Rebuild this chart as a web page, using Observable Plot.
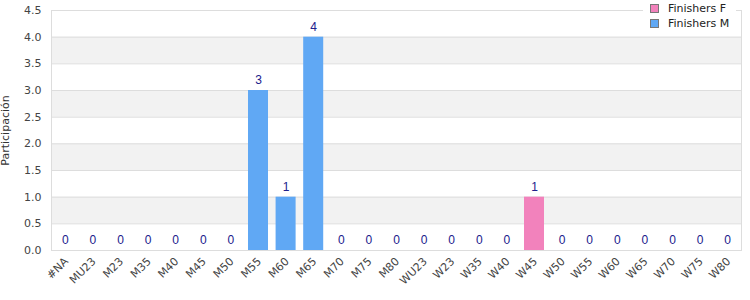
<!DOCTYPE html>
<html><head><meta charset="utf-8">
<script src="https://cdn.jsdelivr.net/npm/d3@7"></script>
<script src="https://cdn.jsdelivr.net/npm/@observablehq/plot@0.6"></script>
<style>
body{margin:0;background:#fff;}
#wrap{position:relative;width:750px;height:300px;overflow:hidden;}
#legend{position:absolute;left:643px;top:0px;width:93px;padding-top:1px;background:#fff;font-family:"DejaVu Sans",sans-serif;font-size:11px;color:#222;}
.item{display:flex;align-items:center;height:15px;}
.sw{width:7px;height:7px;border:1px solid #777;margin-left:7px;margin-right:9px;}
</style>
</head><body>
<div id="wrap"><div id="legend"></div></div>
<script>
const categories = ["#NA","MU23","M23","M35","M40","M45","M50","M55","M60","M65","M70","M75","M80","WU23","W23","W35","W40","W45","W50","W55","W60","W65","W70","W75","W80"];
const finishersF = [0,0,0,0,0,0,0,0,0,0,0,0,0,0,0,0,0,1,0,0,0,0,0,0,0];
const finishersM = [0,0,0,0,0,0,0,3,1,4,0,0,0,0,0,0,0,0,0,0,0,0,0,0,0];
const seriesNames = ["Finishers F","Finishers M"];
const seriesColors = ["#f282bc","#60a8f4"];
const yTicks = [0,0.5,1,1.5,2,2.5,3,3.5,4,4.5];
const yLabel = "Participación";

const rows = categories.flatMap((c,i)=>[
  {cat:c, series:seriesNames[0], value:finishersF[i]},
  {cat:c, series:seriesNames[1], value:finishersM[i]}
]);
const totals = categories.map((c,i)=>({cat:c, total:finishersF[i]+finishersM[i]}));
const bands = [];
for (let i=1;i<yTicks.length-1;i+=2) bands.push({y1:yTicks[i], y2:yTicks[i+1]});

const chart = Plot.plot({
  width:750, height:300,
  marginLeft:51, marginRight:9, marginTop:10, marginBottom:50,
  style:{fontFamily:"DejaVu Sans, sans-serif", fontSize:"11px", color:"#444", background:"#fff"},
  x:{type:"band", domain:categories, paddingInner:0.275, paddingOuter:0.1375, round:false, label:null},
  y:{domain:[0,4.5], label:null},
  color:{domain:seriesNames, range:seriesColors},
  marks:[
    Plot.rect(bands,{y1:"y1", y2:"y2", fill:"#f2f2f2"}),
    Plot.ruleY(yTicks,{stroke:"#dddddd"}),
    Plot.frame({stroke:"#dddddd"}),
    Plot.barY(rows.filter(d=>d.value>0),{x:"cat", y:"value", fill:"series"}),
    Plot.text(totals,{x:"cat", y:"total", text:d=>String(d.total), dy:-10, fill:"#20208c", fontFamily:"Liberation Sans, Arial, sans-serif", fontSize:12}),
    Plot.axisY({ticks:yTicks, tickFormat:d=>d.toFixed(1), tickSize:0, tickPadding:10, label:null}),
    Plot.axisX({tickRotate:-45, tickSize:0, tickPadding:9, dx:1, label:null}),
    Plot.text([yLabel],{frameAnchor:"left", rotate:-90, dx:-46, textAnchor:"middle", text:d=>d, fill:"#333", fontSize:11})
  ]
});
const wrap = document.getElementById("wrap");
wrap.insertBefore(chart, wrap.firstChild);
const legend = document.getElementById("legend");
seriesNames.forEach((n,i)=>{
  const it = document.createElement("div"); it.className="item";
  const sw = document.createElement("span"); sw.className="sw"; sw.style.background=seriesColors[i];
  const tx = document.createElement("span"); tx.textContent=n;
  it.appendChild(sw); it.appendChild(tx); legend.appendChild(it);
});
</script>
</body></html>
